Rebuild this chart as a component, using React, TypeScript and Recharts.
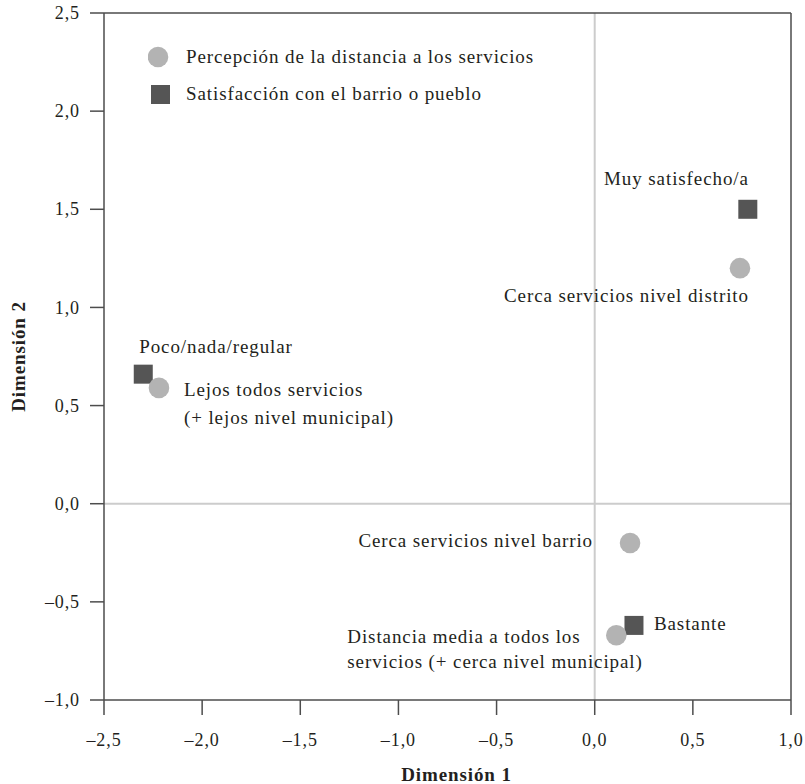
import { Legend, ReferenceLine, Scatter, ScatterChart, XAxis, YAxis } from "recharts";

const FONT = '"Liberation Serif", "Times New Roman", serif';
const INK = "#231f20";
const CIRCLE = "#b3b3b3"; // distance perception
const SQUARE = "#555555"; // neighbourhood satisfaction
const FRAME = "#4d4d4d";
const ZERO = "#cccccc";

const xTicks = [-2.5, -2, -1.5, -1, -0.5, 0, 0.5, 1];
const yTicks = [-1, -0.5, 0, 0.5, 1, 1.5, 2, 2.5];

const distanceName = "Percepción de la distancia a los servicios";
const distanceLabels = [
  ["Cerca servicios nivel distrito"],
  ["Lejos todos servicios", "(+ lejos nivel municipal)"],
  ["Cerca servicios nivel barrio"],
  ["Distancia media a todos los", "servicios (+ cerca nivel municipal)"],
];
const distanceX = [0.74, -2.22, 0.18, 0.11];
const distanceY = [1.2, 0.59, -0.2, -0.67];

const satisfactionName = "Satisfacción con el barrio o pueblo";
const satisfactionLabels = [["Muy satisfecho/a"], ["Poco/nada/regular"], ["Bastante"]];
const satisfactionX = [0.78, -2.3, 0.2];
const satisfactionY = [1.5, 0.66, -0.62];

// where each point's caption sits, relative to its mark
const placement: Record<string, { anchor: "start" | "end"; dx: number; dy: number; gap?: number }> = {
  "Cerca servicios nivel distrito": { anchor: "end", dx: 9, dy: 34 },
  "Lejos todos servicios": { anchor: "start", dx: 25, dy: 8, gap: 28 },
  "Cerca servicios nivel barrio": { anchor: "end", dx: -37, dy: 4 },
  "Distancia media a todos los": { anchor: "start", dx: -269, dy: 8, gap: 25 },
  "Muy satisfecho/a": { anchor: "end", dx: 1, dy: -24 },
  "Poco/nada/regular": { anchor: "start", dx: -4, dy: -21 },
  Bastante: { anchor: "start", dx: 20, dy: 5 },
};

const distanceRows = distanceX.map((x, i) => ({ x, y: distanceY[i], lines: distanceLabels[i] }));
const satisfactionRows = satisfactionX.map((x, i) => ({
  x,
  y: satisfactionY[i],
  lines: satisfactionLabels[i],
}));

const fmt = (v: number) => v.toFixed(1).replace(".", ",").replace("-", "–");

const textStyle = { fontFamily: FONT, fontSize: 19, fill: INK, letterSpacing: 0.9 };

function Caption({ cx, cy, lines }: { cx: number; cy: number; lines: string[] }) {
  const p = placement[lines[0]];
  if (!p) return null;
  return (
    <text {...textStyle} textAnchor={p.anchor} x={cx + p.dx} y={cy + p.dy}>
      {lines.map((line, i) => (
        <tspan key={line} x={cx + p.dx} dy={i === 0 ? 0 : p.gap ?? 25}>
          {line}
        </tspan>
      ))}
    </text>
  );
}

const circleShape = (props: any) => (
  <g>
    <circle cx={props.cx} cy={props.cy} fill={CIRCLE} r={10.3} />
    <Caption cx={props.cx} cy={props.cy} lines={props.payload.lines} />
  </g>
);

const squareShape = (props: any) => (
  <g>
    <rect fill={SQUARE} height={19} width={19} x={props.cx - 9.5} y={props.cy - 9.5} />
    <Caption cx={props.cx} cy={props.cy} lines={props.payload.lines} />
  </g>
);

const XTick = (p: any) => (
  <text {...textStyle} fontSize={18} dy="0.72em" textAnchor="middle" x={p.x} y={p.y}>
    {fmt(p.payload.value)}
  </text>
);

const YTick = (p: any) => (
  <text {...textStyle} fontSize={18} dy="0.34em" textAnchor="end" x={p.x} y={p.y}>
    {fmt(p.payload.value)}
  </text>
);

const legendOrder = [distanceName, satisfactionName];

function LegendBox() {
  return (
    <svg height={64} width={420}>
      {legendOrder.map((name, i) => (
        <g key={name}>
          {i === 0 ? (
            <circle cx={10} cy={12} fill={CIRCLE} r={10.3} />
          ) : (
            <rect fill={SQUARE} height={19} width={19} x={3} y={40} />
          )}
          <text {...textStyle} x={38} y={i === 0 ? 18 : 55}>
            {name}
          </text>
        </g>
      ))}
    </svg>
  );
}

const axisTitle = { fontFamily: FONT, fontSize: 19, fontWeight: 700, fill: INK, letterSpacing: 0.9 };

export default function App() {
  return (
    <div style={{ position: "absolute", left: 0, top: 0 }}>
      <ScatterChart height={784} margin={{ top: 13, right: 14, bottom: 4, left: 0 }} width={805}>
        <XAxis
          axisLine={{ stroke: FRAME, strokeWidth: 1.5 }}
          dataKey="x"
          domain={[-2.5, 1]}
          height={80}
          label={(lp: any) => {
            const vb = lp.viewBox;
            return (
              <text {...axisTitle} textAnchor="middle" x={vb.x + vb.width / 2 + 9} y={vb.y + 81}>
                Dimensión 1
              </text>
            );
          }}
          tick={<XTick />}
          tickLine={{ stroke: FRAME, strokeWidth: 1.5 }}
          tickMargin={18}
          tickSize={15}
          ticks={xTicks}
          type="number"
        />
        <YAxis
          axisLine={{ stroke: FRAME, strokeWidth: 1.5 }}
          dataKey="y"
          domain={[-1, 2.5]}
          label={(lp: any) => {
            const vb = lp.viewBox;
            const cy = vb.y + vb.height / 2;
            return (
              <text {...axisTitle} textAnchor="middle" transform={`rotate(-90 25 ${cy})`} x={25} y={cy}>
                Dimensión 2
              </text>
            );
          }}
          tick={<YTick />}
          tickLine={{ stroke: FRAME, strokeWidth: 1.5 }}
          tickMargin={10}
          tickSize={14}
          ticks={yTicks}
          type="number"
          width={104}
        />
        <ReferenceLine stroke={ZERO} strokeWidth={2} x={0} />
        <ReferenceLine stroke={ZERO} strokeWidth={2} y={0} />
        <ReferenceLine stroke={FRAME} strokeWidth={1.5} y={2.5} />
        <ReferenceLine stroke={FRAME} strokeWidth={1.5} x={1} />
        <Legend
          align="center"
          content={<LegendBox />}
          layout="horizontal"
          verticalAlign="middle"
          wrapperStyle={{ left: 148, top: 45, width: 420, height: 64 }}
        />
        <Scatter
          data={satisfactionRows}
          fill={SQUARE}
          isAnimationActive={false}
          name={satisfactionName}
          shape={squareShape}
        />
        <Scatter
          data={distanceRows}
          fill={CIRCLE}
          isAnimationActive={false}
          name={distanceName}
          shape={circleShape}
        />
      </ScatterChart>
    </div>
  );
}
